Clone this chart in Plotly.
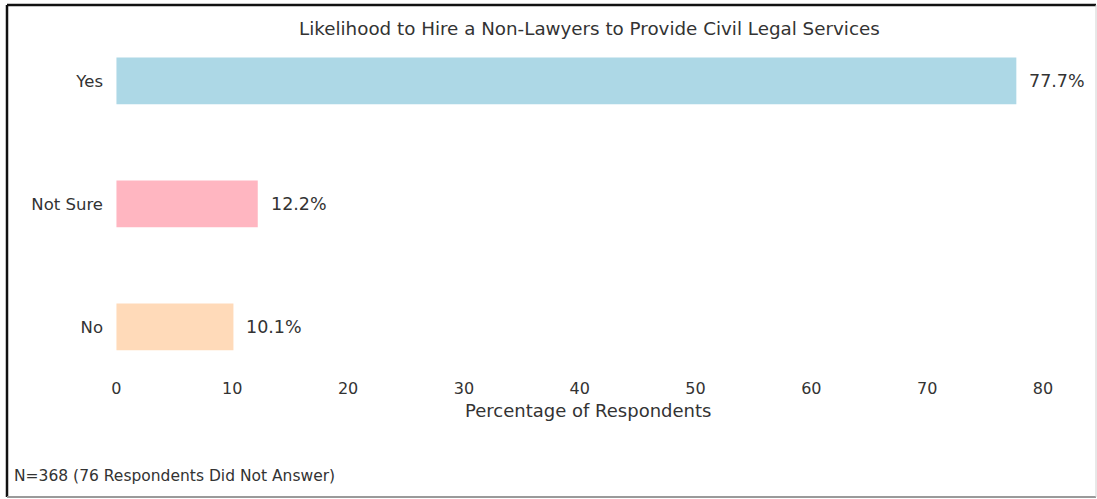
import plotly.graph_objects as go

# ---- data ----
categories = ["No", "Not Sure", "Yes"]
percentages = [10.1, 12.2, 77.7]
bar_colors = ["#FFDAB9", "#FFB6C1", "#ADD8E6"]
x_ticks = [0, 10, 20, 30, 40, 50, 60, 70, 80]

TITLE = "Likelihood to Hire a Non-Lawyers to Provide Civil Legal Services"
FOOTNOTE = "N=368 (76 Respondents Did Not Answer)"
TEXT = "#333333"
FONT = "DejaVu Sans"

W, H = 1097, 499
ML, MR, MT, MB = 108, 37, 40, 122
PW, PH = W - ML - MR, H - MT - MB


def px_x(px):
    return (px - ML) / PW


def px_y(py):
    return (H - MB - py) / PH


fig = go.Figure()
fig.add_trace(go.Bar(
    y=categories, x=percentages, orientation="h",
    marker=dict(color=bar_colors, line=dict(width=0)),
    width=0.38, showlegend=False, hoverinfo="skip",
))

# value labels just right of each bar
for cat, val in zip(categories, percentages):
    fig.add_annotation(x=val, y=cat, text=f"{val:.1f}%", showarrow=False,
                       xanchor="left", xshift=11,
                       font=dict(size=17.5, color=TEXT, family=FONT))

fig.add_annotation(x=px_x(589), y=px_y(28), xref="paper", yref="paper",
                   text=TITLE, showarrow=False, xanchor="center", yanchor="middle",
                   font=dict(size=18.3, color=TEXT, family=FONT))
fig.add_annotation(x=px_x(588), y=px_y(410), xref="paper", yref="paper",
                   text="Percentage of Respondents", showarrow=False,
                   xanchor="center", yanchor="middle",
                   font=dict(size=18, color=TEXT, family=FONT))
fig.add_annotation(x=px_x(12), y=px_y(476), xref="paper", yref="paper",
                   text=FOOTNOTE, showarrow=False, xanchor="left", yanchor="middle",
                   font=dict(size=15.5, color=TEXT, family=FONT))

# outer frame
x0, x1 = px_x(7), px_x(1096)
y0, y1 = px_y(497), px_y(5)
for xa, ya, xb, yb, col, w in [
    (x0, y0, x0, y1, "#111111", 2.5),
    (x0, y1, x1, y1, "#111111", 2.5),
    (x0, y0, x1, y0, "#9a9a9a", 2),
    (x1, y0, x1, y1, "#d0d0d0", 1),
]:
    fig.add_shape(type="line", xref="paper", yref="paper",
                  x0=xa, y0=ya, x1=xb, y1=yb, line=dict(color=col, width=w))

fig.update_layout(
    width=W, height=H,
    paper_bgcolor="white", plot_bgcolor="white",
    margin=dict(l=ML, r=MR, t=MT, b=MB),
    font=dict(family=FONT, size=16, color=TEXT),
    xaxis=dict(range=[-0.73, 81.47], tickvals=x_ticks, showgrid=False,
               zeroline=False, showline=False, ticks="",
               tickfont=dict(size=16, color=TEXT)),
    yaxis=dict(range=[-0.407, 2.333], showgrid=False, zeroline=False,
               showline=False, ticks="", ticklabelstandoff=4,
               tickfont=dict(size=16.5, color=TEXT)),
)

fig.write_html("out.html", config={"displayModeBar": False},
               post_script="document.body.style.margin='0';document.body.style.overflow='hidden';")
